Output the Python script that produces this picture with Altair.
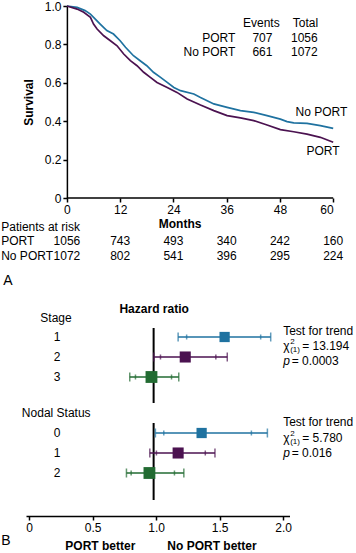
import altair as alt
import pandas as pd

FONT = "Liberation Sans"
BLUE = "#1f72a0"
PURPLE = "#4b1250"
GREEN = "#226b32"

# ---------------- Panel A data ----------------
noport_time = [0, 2.3, 4.1, 5.3, 6.4, 7.5, 9.0, 10.5, 12.0, 13.2, 15.0, 16.5, 18.0, 19.5, 21.1,
               22.6, 24.1, 25.6, 28.6, 30.1, 33.1, 36.1, 39.1, 42.1, 45.1, 48.1, 49.6, 51.1,
               54.1, 57.1, 60.0]
noport_surv = [1.0, 0.993, 0.976, 0.958, 0.932, 0.906, 0.872, 0.854, 0.819, 0.785, 0.741, 0.715,
               0.689, 0.655, 0.628, 0.602, 0.576, 0.559, 0.542, 0.524, 0.490, 0.472, 0.455,
               0.446, 0.429, 0.411, 0.398, 0.391, 0.389, 0.377, 0.363]
port_time = [0, 2.3, 3.8, 5.3, 6.0, 6.8, 8.3, 9.8, 11.3, 12.8, 14.3, 15.8, 17.3, 18.8, 20.3,
             22.6, 24.8, 27.1, 30.1, 33.1, 36.1, 39.1, 42.1, 45.1, 48.1, 51.1, 54.1, 57.1, 60.0]
port_surv = [1.0, 0.984, 0.967, 0.941, 0.906, 0.880, 0.845, 0.819, 0.793, 0.750, 0.715, 0.689,
             0.655, 0.628, 0.602, 0.576, 0.550, 0.516, 0.484, 0.455, 0.429, 0.417, 0.403,
             0.380, 0.356, 0.345, 0.333, 0.316, 0.290]

groups = ["PORT", "No PORT"]
events = [707, 661]
totals = [1056, 1072]

risk_times = [0, 12, 24, 36, 48, 60]
risk_port = [1056, 743, 493, 340, 242, 160]
risk_noport = [1072, 802, 541, 396, 295, 224]

# ---------------- Panel B data ----------------
factor = ["Stage", "Stage", "Stage", "Nodal Status", "Nodal Status", "Nodal Status"]
level = ["1", "2", "3", "0", "1", "2"]
tier = ["t1", "t2", "t3", "t1", "t2", "t3"]
hr = [1.539, 1.229, 0.963, 1.358, 1.173, 0.947]
lo = [1.173, 0.981, 0.792, 0.994, 0.950, 0.766]
hi = [1.902, 1.560, 1.178, 1.876, 1.463, 1.218]
lo_in = [1.240, 1.034, 0.837, 1.060, 1.002, 0.803]
hi_in = [1.823, 1.470, 1.121, 1.750, 1.387, 1.144]
trend_chi = ["13.194", "5.780"]
trend_p = ["0.0003", "0.016"]

# layout rows for panel B (vertical slots)
ROWS = [0, 1, 2, 4.8, 5.8, 6.8]

# ---------------- Panel A ----------------
km = pd.concat([
    pd.DataFrame({"time": noport_time, "surv": noport_surv, "group": "No PORT"}),
    pd.DataFrame({"time": port_time, "surv": port_surv, "group": "PORT"}),
])

# panel A plot area shares its left edge with panel B; the survival axis is shifted in
XMIN = -9.216
xs = alt.Scale(domain=[XMIN, 60], nice=False)
ys = alt.Scale(domain=[0, 1], nice=False)
zero_fmt = "datum.value == 0 ? '0' : format(datum.value, '.1f')"

TX = dict(values=risk_times, title="Months", titlePadding=3, domain=False)
TY = dict(values=[0, 0.2, 0.4, 0.6, 0.8, 1.0], labelExpr=zero_fmt, title="Survival",
          titlePadding=9, offset=-40.9)

lines = alt.Chart(km).mark_line(strokeWidth=1.7).encode(
    x=alt.X("time:Q", scale=xs, axis=alt.Axis(**TX)),
    y=alt.Y("surv:Q", scale=ys, axis=alt.Axis(**TY)),
    color=alt.Color("group:N", scale=alt.Scale(domain=["PORT", "No PORT"], range=[PURPLE, BLUE]),
                    legend=None),
)


def txt(df, x, y, **kw):
    props = dict(font=FONT, fontSize=12, color="black")
    props.update(kw)
    return alt.Chart(df).mark_text(**props).encode(x=x, y=y, text="t:N")


def ax(f, sc):
    return alt.X(f, scale=sc, axis=alt.Axis(**TX))


def ay(f, sc):
    return alt.Y(f, scale=sc, axis=alt.Axis(**TY))


xline = alt.Chart(pd.DataFrame({"a": [0], "b": [60], "y": [0]})).mark_rule(
    color="black", strokeWidth=1.5).encode(x=ax("a:Q", xs), x2="b:Q", y=ay("y:Q", ys))

ev_head = txt(pd.DataFrame({"t": ["Events", "Total"], "x": [43.8, 53.75], "y": [0.911, 0.911]}),
              ax("x:Q", xs), ay("y:Q", ys), align="center")
ev_lab = txt(pd.DataFrame({"t": groups, "x": [37.96, 37.96], "y": [0.833, 0.76]}),
             ax("x:Q", xs), ay("y:Q", ys), align="right")
ev_val = txt(pd.DataFrame({"t": [str(v) for v in events], "x": [44.05, 44.05], "y": [0.833, 0.76]}),
             ax("x:Q", xs), ay("y:Q", ys), align="center")
ev_tot = txt(pd.DataFrame({"t": [str(v) for v in totals], "x": [53.5, 53.5], "y": [0.833, 0.76]}),
             ax("x:Q", xs), ay("y:Q", ys), align="center")

curve_lab = txt(pd.DataFrame({"t": ["No PORT", "PORT"], "x": [51.5, 53.98], "y": [0.448, 0.245]}),
                ax("x:Q", xs), ay("y:Q", ys), align="left")

risk_df = pd.concat([
    pd.DataFrame({"x": risk_times, "t": [str(v) for v in risk_port], "y": -0.222}),
    pd.DataFrame({"x": risk_times, "t": [str(v) for v in risk_noport], "y": -0.302}),
])
risk_nums = txt(risk_df, ax("x:Q", xs), ay("y:Q", ys), align="center")
risk_labs = txt(pd.DataFrame({"t": ["Patients at risk", "PORT", "No PORT"], "y": [-0.151, -0.222, -0.302]}),
                alt.value(-24.8), ay("y:Q", ys), align="left")
lab_a = txt(pd.DataFrame({"t": ["A"], "y": [-0.431]}), alt.value(-22.8), ay("y:Q", ys),
            align="left", fontSize=14)

top = alt.layer(lines, xline, ev_head, ev_lab, ev_val, ev_tot, curve_lab, risk_nums, risk_labs,
                lab_a).properties(width=307.2, height=192)

# ---------------- Panel B ----------------
forest = pd.DataFrame({"factor": factor, "level": level, "tier": tier, "hr": hr, "lo": lo, "hi": hi,
                       "lo_in": lo_in, "hi_in": hi_in, "row": ROWS})

fx = alt.Scale(domain=[-0.025, 2.05], nice=False)
fy = alt.Scale(domain=[-2.0, 8.95], nice=False, reverse=True)
cscale = alt.Scale(domain=["t1", "t2", "t3"], range=[BLUE, PURPLE, GREEN])
FX = dict(values=[0, 0.5, 1, 1.5, 2], labelExpr=zero_fmt, title=None)


def bx(f):
    return alt.X(f, scale=fx, axis=alt.Axis(**FX))


def by(f):
    return alt.Y(f, scale=fy, axis=None)


col = alt.Color("tier:N", scale=cscale, legend=None)

ref = alt.Chart(pd.DataFrame({"y1": [-0.45, 4.3], "y2": [3.3, 8.15]})).mark_rule(
    color="black", strokeWidth=2).encode(
    x=alt.X(datum=0.98, scale=fx, axis=alt.Axis(**FX)),
    y=by("y1:Q"), y2="y2:Q")

base = alt.Chart(forest)
ci = base.mark_rule(strokeWidth=1.5).encode(x=bx("lo:Q"), x2="hi:Q", y=by("row:Q"), color=col)
caps = base.transform_fold(["lo", "hi"], as_=["k", "v"]).mark_tick(
    orient="vertical", size=9, thickness=1.5).encode(x=bx("v:Q"), y=by("row:Q"), color=col)
inner = base.transform_fold(["lo_in", "hi_in"], as_=["k", "v"]).mark_tick(
    orient="vertical", size=5, thickness=1.5).encode(x=bx("v:Q"), y=by("row:Q"), color=col)
sq = base.mark_square(opacity=1).encode(
    x=bx("hr:Q"), y=by("row:Q"), color=col,
    size=alt.Size("tier:N", scale=alt.Scale(domain=["t1", "t2", "t3"], range=[105, 140, 200]),
                  legend=None))

lvl = base.mark_text(font=FONT, fontSize=12, color="black", align="center").encode(
    x=alt.X(datum=0.22, scale=fx, axis=alt.Axis(**FX)), y=by("row:Q"), text="level:N")

heads = txt(pd.DataFrame({"t": ["Stage", "Nodal Status"], "x": [0.211, 0.213], "y": [-0.95, 3.8]}),
            bx("x:Q"), by("y:Q"), align="center")
hr_title = txt(pd.DataFrame({"t": ["Hazard ratio"], "x": [0.984], "y": [-1.4]}),
               bx("x:Q"), by("y:Q"), align="center", fontWeight="bold")
better = txt(pd.DataFrame({"t": ["PORT better", "No PORT better"], "x": [0.56, 1.44], "y": [10.45, 10.45]}),
             bx("x:Q"), by("y:Q"), align="center", fontWeight="bold")
lab_b = txt(pd.DataFrame({"t": ["B"], "y": [10.2]}), alt.value(-24.8), by("y:Q"),
            align="left", fontSize=14)

trend_y = [-0.3, 4.25]
chi_y = [0.45, 5.05]
p_y = [1.2, 5.8]
r_trend = txt(pd.DataFrame({"t": ["Test for trend"] * 2, "x": [2.0, 2.0], "y": trend_y}),
              bx("x:Q"), by("y:Q"), align="left")
r_chi = txt(pd.DataFrame({"t": ["χ"] * 2, "x": [2.0, 2.0], "y": chi_y}),
            bx("x:Q"), by("y:Q"), align="left")
r_sup = txt(pd.DataFrame({"t": ["2"] * 2, "x": [2.0, 2.0], "y": chi_y}),
            bx("x:Q"), by("y:Q"), align="left", fontSize=8, dx=7, dy=-4)
r_sub = txt(pd.DataFrame({"t": ["(1)"] * 2, "x": [2.0, 2.0], "y": chi_y}),
            bx("x:Q"), by("y:Q"), align="left", fontSize=8, dx=7, dy=4)
r_chival = txt(pd.DataFrame({"t": ["= " + v for v in trend_chi], "x": [2.0, 2.0], "y": chi_y}),
               bx("x:Q"), by("y:Q"), align="left", dx=19)
r_p = txt(pd.DataFrame({"t": ["p"] * 2, "x": [2.0, 2.0], "y": p_y}),
          bx("x:Q"), by("y:Q"), align="left", fontStyle="italic")
r_pval = txt(pd.DataFrame({"t": ["= " + v for v in trend_p], "x": [2.0, 2.0], "y": p_y}),
             bx("x:Q"), by("y:Q"), align="left", dx=8.5)

bottom = alt.layer(ref, ci, caps, inner, sq, lvl, heads, hr_title, better, lab_b,
                   r_trend, r_chi, r_sup, r_sub, r_chival, r_p, r_pval).properties(
    width=263.5, height=219)

chart = alt.vconcat(top, bottom, spacing=9).resolve_scale(
    color="independent", size="independent"
).properties(
    padding={"left": 1, "top": 0, "right": 0, "bottom": 0}
).configure_view(stroke=None).configure_axis(
    grid=False, domainColor="black", domainWidth=1.5, tickColor="black", tickWidth=1.5,
    tickSize=4, labelFont=FONT, labelFontSize=12, labelColor="black", labelPadding=2,
    titleFont=FONT, titleFontSize=12, titleFontWeight="bold", titleColor="black",
).configure_text(font=FONT)

chart.save("out.html", embed_options={"renderer": "svg", "actions": False})
